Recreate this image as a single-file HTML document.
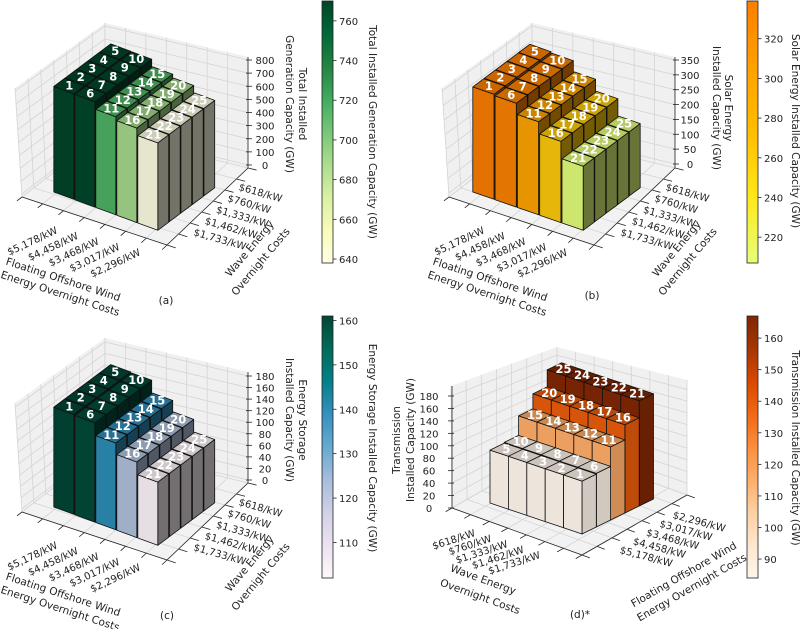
<!DOCTYPE html>
<html>
<head>
<meta charset="utf-8">
<style>
  html,body{margin:0;padding:0;background:#ffffff;}
  svg{display:block;font-family:"DejaVu Sans","Liberation Sans",sans-serif;}
  .tick{font-size:10px;fill:#222;}
  .title{font-size:10.5px;fill:#222;}
  .barlbl{font-size:11.5px;font-weight:bold;fill:#ffffff;}
</style>
</head>
<body>
<svg id="chart" width="800" height="629" viewBox="0 0 800 629" xmlns="http://www.w3.org/2000/svg"></svg>
<script>
// ---------------- data ----------------
const windLabels = ['$5,178/kW','$4,458/kW','$3,468/kW','$3,017/kW','$2,296/kW'];
const waveLabels = ['$618/kW','$760/kW','$1,333/kW','$1,462/kW','$1,733/kW'];
// values for bars 1..25
const genValues = [770,770,770,770,770, 769,769,769,769,769, 716,716,716,716,716, 690,690,690,690,690, 638,638,638,638,638];
const solarValues = [339,339,339,339,339, 335,335,335,335,335, 300,300,300,300,300, 262,262,262,262,262, 207,207,207,207,207];
const storageValues = [161,161,161,161,161, 160,160,160,160,160, 140,140,140,140,140, 122,122,122,122,122, 102,102,102,102,102];
const transValues = [84,84,84,84,84, 85,85,85,85,85, 116,116,116,116,116, 140,140,140,140,140, 167,167,167,167,167];
const genTicks = [0,100,200,300,400,500,600,700,800];
const solarTicks = [0,50,100,150,200,250,300,350];
const storageTicks = [0,20,40,60,80,100,120,140,160,180];
const transTicks = [0,20,40,60,80,100,120,140,160,180];
const genCbTicks = [640,660,680,700,720,740,760];
const solarCbTicks = [220,240,260,280,300,320];
const storageCbTicks = [110,120,130,140,150,160];
const transCbTicks = [90,100,110,120,130,140,150,160];

// ---------------- colormaps ----------------
const YlGn = ['#ffffe5','#f7fcb9','#d9f0a3','#addd8e','#78c679','#41ab5d','#238443','#006837','#004529'];
const Wistia = ['#e4ff7a','#ffe81a','#ffbd00','#ffa000','#fc7f00'];
const PuBuGn = ['#fff7fb','#ece2f0','#d0d1e6','#a6bddb','#67a9cf','#3690c0','#02818a','#016c59','#014636'];
const Oranges = ['#fff5eb','#fee6ce','#fdd0a2','#fdae6b','#fd8d3c','#f16913','#d94801','#a63603','#7f2704'];

const NS = 'http://www.w3.org/2000/svg';
const svg = document.getElementById('chart');
function mk(tag, attrs, parent){
  const e = document.createElementNS(NS, tag);
  for (const k in attrs) e.setAttribute(k, attrs[k]);
  (parent || svg).appendChild(e);
  return e;
}
function hex2rgb(h){return [parseInt(h.substr(1,2),16),parseInt(h.substr(3,2),16),parseInt(h.substr(5,2),16)];}
function cmapColor(cmap, t){
  t = Math.max(0, Math.min(1, t));
  const n = cmap.length - 1, p = t * n, k = Math.min(n - 1, Math.floor(p)), f = p - k;
  const a = hex2rgb(cmap[k]), b = hex2rgb(cmap[k + 1]);
  return [0,1,2].map(q => a[q] + (b[q] - a[q]) * f);
}
function shade(c, f){return 'rgb(' + c.map(v => Math.round(v * f)).join(',') + ')';}
function lerp(p, q, t){return [p[0] + (q[0] - p[0]) * t, p[1] + (q[1] - p[1]) * t];}
function pts(arr){return arr.map(p => p[0].toFixed(1) + ',' + p[1].toFixed(1)).join(' ');}

// ---------------- panels ----------------
const panels = [
  {key:'a', values:genValues, ticks:genTicks, cbTicks:genCbTicks, cmap:YlGn, dark:true,
   zTitle:['Total Installed','Generation Capacity (GW)'], cbTitle:'Total Installed Generation Capacity (GW)', caption:'(a)',
   type:'std', dx:0, dy:0, O:[53,192], ex:[21,7.75], ey:[11.5,-8.6], w:0.95, kz:0.137,
   axisX:248, z0y:165, zTop:60, zLabelX:265, zTitleX:[302,289], zTitleY:104,
   cb:[322,1,11,262], cbTitleX:372, cbTitleY:132, capXY:[166,301]},
  {key:'b', values:solarValues, ticks:solarTicks, cbTicks:solarCbTicks, cmap:Wistia, dark:true,
   zTitle:['Solar Energy','Installed Capacity (GW)'], cbTitle:'Solar Energy Installed Capacity (GW)', caption:'(b)',
   type:'std', dx:427, dy:0, O:[472,192], ex:[22.3,7.75], ey:[11.5,-8.6], w:0.95, kz:0.31,
   axisX:675, z0y:164, zTop:60, zLabelX:690, zTitleX:[728,716], zTitleY:108,
   cb:[747,1,11,262], cbTitleX:795, cbTitleY:131, capXY:[592,296]},
  {key:'c', values:storageValues, ticks:storageTicks, cbTicks:storageCbTicks, cmap:PuBuGn, dark:true,
   zTitle:['Energy Storage','Installed Capacity (GW)'], cbTitle:'Energy Storage Installed Capacity (GW)', caption:'(c)',
   type:'std', dx:0, dy:315, O:[53,507], ex:[21,7.75], ey:[11.5,-8.6], w:0.95, kz:0.62,
   axisX:248, z0y:480, zTop:376, zLabelX:265, zTitleX:[302,289], zTitleY:420,
   cb:[322,316,11,262], cbTitleX:372, cbTitleY:448, capXY:[167,616]},
  {key:'d', values:transValues, ticks:transTicks, cbTicks:transCbTicks, cmap:Oranges, dark:false,
   zTitle:['Transmission','Installed Capacity (GW)'], cbTitle:'Transmission Installed Capacity (GW)', caption:'(d)*',
   type:'rot', dx:0, dy:0, O:[490,503], ex:[18.4,6.2], ey:[14.3,-7.0], w:1.0, kz:0.63,
   axisX:452, z0y:508, zTop:396, zLabelX:429, zTitleX:[397,411], zTitleY:440,
   cb:[747,316,11,262], cbTitleX:795, cbTitleY:448, capXY:[580,615]}
];

panels.forEach(P => {
  const g = mk('g', {});
  
  
  const vmin = Math.min(...P.values), vmax = Math.max(...P.values);
  const zs = (P.z0y - P.zTop) / (P.ticks[P.ticks.length - 1]);
  const off = (p) => [p[0] + P.dx, p[1] + P.dy];

  let floor, walls, zEdgeBottom, zEdgeTop;
  if (P.type === 'std') {
    const F0 = off([22,197]), F1 = off([167,245]), F2 = off([248,168]), F3 = off([105,133]);
    const T0 = off([15,88]), T3 = off([105,23]), T2 = off([248,57]);
    floor = {A:F0, B:F1, C:F2, D:F3};
    walls = [[F0,F3,T3,T0],[F3,F2,T2,T3]];
    zEdgeBottom = F2; zEdgeTop = T2;
  } else {
    const L = [452,508], Fr = [582,555], R = [687,495], B = [557,448];
    const Lt = [451,386], Bt = [557,347], Rt = [687,380];
    floor = {A:L, B:Fr, C:R, D:B};
    walls = [[L,B,Bt,Lt],[B,R,Rt,Bt]];
    zEdgeBottom = L; zEdgeTop = Lt;
  }
  const zFrac = v => (zEdgeBottom[1] - (P.z0y - v * zs)) / (zEdgeBottom[1] - zEdgeTop[1]);

  const paneG = mk('g', {}, g);
  
  
  const fl = mk('polygon', {points: pts([floor.A, floor.B, floor.C, floor.D]), fill:'#f2f2f2', stroke:'none'}, paneG);
  
  
  walls.forEach((wq) => {
    const wp = mk('polygon', {points: pts(wq), fill:'#f0f0f0', stroke:'none'}, paneG);
    
    
    P.ticks.forEach(v => {
      const f = zFrac(v);
      const a = lerp(wq[0], wq[3], f), b = lerp(wq[1], wq[2], f);
      const ln = mk('line', {x1:a[0], y1:a[1], x2:b[0], y2:b[1], stroke:'#d4d4d4', 'stroke-width':0.8}, paneG);
      
      
    });
    for (let k = 0; k <= 7; k++) {
      const a = lerp(wq[0], wq[1], k / 7), b = lerp(wq[3], wq[2], k / 7);
      const ln = mk('line', {x1:a[0], y1:a[1], x2:b[0], y2:b[1], stroke:'#d4d4d4', 'stroke-width':0.8}, paneG);
      
      
    }
  });
  for (let k = 0; k <= 7; k++) {
    const a = lerp(floor.A, floor.B, k / 7), b = lerp(floor.D, floor.C, k / 7);
    const ln = mk('line', {x1:a[0], y1:a[1], x2:b[0], y2:b[1], stroke:'#d4d4d4', 'stroke-width':0.8}, paneG);
    
    
    const t = lerp(a, b, -0.06);
    const tk = mk('line', {x1:a[0], y1:a[1], x2:t[0], y2:t[1], stroke:'#222', 'stroke-width':0.8}, paneG);
    
    
    const c = lerp(floor.B, floor.C, k / 7), d = lerp(floor.A, floor.D, k / 7);
    const ln2 = mk('line', {x1:c[0], y1:c[1], x2:d[0], y2:d[1], stroke:'#d4d4d4', 'stroke-width':0.8}, paneG);
    
    
    const t2 = lerp(c, d, -0.06);
    const tk2 = mk('line', {x1:c[0], y1:c[1], x2:t2[0], y2:t2[1], stroke:'#222', 'stroke-width':0.8}, paneG);
    
    
  }
  [[floor.A, floor.B],[floor.B, floor.C]].forEach(e => {
    const ln = mk('line', {x1:e[0][0], y1:e[0][1], x2:e[1][0], y2:e[1][1], stroke:'#222', 'stroke-width':0.8}, paneG);
    
    
  });

  const zx = P.axisX;
  const zl = mk('line', {x1:zx, y1:zEdgeBottom[1], x2:zx, y2:zEdgeTop[1], stroke:'#222', 'stroke-width':0.8}, g);
  
  
  const tdir = P.type === 'std' ? 1 : -1;
  P.ticks.forEach(v => {
    const y = P.z0y - v * zs;
    const tk = mk('line', {x1:zx - 2 * tdir, y1:y, x2:zx + 4 * tdir, y2:y, stroke:'#222', 'stroke-width':0.8}, g);
    
    
    const tx = mk('text', {x:P.zLabelX, y:y + 1, 'text-anchor':'middle', 'dominant-baseline':'middle', class:'tick'}, g);
    
    
    tx.textContent = v;
  });
  P.zTitle.forEach((line, li) => {
    const x = P.zTitleX[li], y = P.zTitleY;
    const rot = P.type === 'std' ? 90 : -90;
    const tx = mk('text', {x:x, y:y, 'text-anchor':'middle', 'dominant-baseline':'middle', class:'title', transform:'rotate(' + rot + ' ' + x + ' ' + y + ')'}, g);
    
    
    tx.textContent = line;
  });

  const bars = [];
  P.values.forEach((v, idx) => {
    let i, j;
    if (P.type === 'std') { i = Math.floor(idx / 5); j = idx % 5; }
    else { j = Math.floor(idx / 5); i = 4 - (idx % 5); }
    bars.push({n: idx + 1, v: v, i: i, j: j});
  });
  bars.sort((a, b) => (b.j - a.j) || (a.i - b.i));
  const proj = (x, y, h) => [P.O[0] + x * P.ex[0] + y * P.ey[0], P.O[1] + x * P.ex[1] + y * P.ey[1] - h];
  const fF = P.dark ? 0.9 : 0.93, fT = 0.8, fR = P.dark ? 0.45 : 0.82;
  const barG = mk('g', {}, g);
  
  
  bars.forEach(b => {
    const h = b.v * P.kz;
    const x0 = b.i + (1 - P.w) / 2, x1 = x0 + P.w, y0 = b.j + (1 - P.w) / 2, y1 = y0 + P.w;
    const a0 = proj(x0,y0,0), b0 = proj(x1,y0,0), c0 = proj(x1,y1,0);
    const a1 = proj(x0,y0,h), b1 = proj(x1,y0,h), c1 = proj(x1,y1,h), d1 = proj(x0,y1,h);
    const col = cmapColor(P.cmap, (b.v - vmin) / (vmax - vmin));
    const bg = mk('g', {}, barG);
    
    
    const sr = {stroke:'#111', 'stroke-width':0.8, 'stroke-linejoin':'round'};
    const rf = mk('polygon', Object.assign({points: pts([b0,c0,c1,b1]), fill: shade(col, fR)}, sr), bg);
    
    
    const ff = mk('polygon', Object.assign({points: pts([a0,b0,b1,a1]), fill: shade(col, fF)}, sr), bg);
    
    
    const tf = mk('polygon', Object.assign({points: pts([a1,b1,c1,d1]), fill: shade(col, fT)}, sr), bg);
    
    
    const cx = (a1[0] + c1[0]) / 2, cy = (a1[1] + c1[1]) / 2;
    const lb = mk('text', {x:cx, y:cy, 'text-anchor':'middle', 'dominant-baseline':'middle', class:'barlbl'}, bg);
    
    
    lb.textContent = b.n;
  });

  const dx = P.dx, dy = P.dy;
  if (P.type === 'std') {
    windLabels.forEach((s, k) => {
      const x = 57 + 20.75 * k + dx, y = 230 + 5.5 * k + dy;
      const t = mk('text', {x:x, y:y, 'text-anchor':'end', 'dominant-baseline':'middle', class:'tick', transform:'rotate(-25 ' + x + ' ' + y + ')'}, g);
      
      
      t.textContent = s;
    });
    waveLabels.forEach((s, k) => {
      const x = 239 - 11.3 * k + dx, y = 187 + 11.3 * k + dy;
      const t = mk('text', {x:x, y:y, 'text-anchor':'start', 'dominant-baseline':'middle', class:'tick', transform:'rotate(16 ' + x + ' ' + y + ')'}, g);
      
      
      t.textContent = s;
    });
    [['Floating Offshore Wind',63,280],['Energy Overnight Costs',60,294]].forEach(r => {
      const x = r[1] + dx, y = r[2] + dy;
      const t = mk('text', {x:x, y:y, 'text-anchor':'middle', 'dominant-baseline':'middle', class:'title', transform:'rotate(18 ' + x + ' ' + y + ')'}, g);
      
      
      t.textContent = r[0];
    });
    [['Wave Energy',250,249],['Overnight Costs',261,262]].forEach(r => {
      const x = r[1] + dx, y = r[2] + dy;
      const t = mk('text', {x:x, y:y, 'text-anchor':'middle', 'dominant-baseline':'middle', class:'title', transform:'rotate(-50 ' + x + ' ' + y + ')'}, g);
      
      
      t.textContent = r[0];
    });
  } else {
    waveLabels.forEach((s, k) => {
      const x = 475 + 16.25 * k, y = 533 + 5.5 * k;
      const t = mk('text', {x:x, y:y, 'text-anchor':'end', 'dominant-baseline':'middle', class:'tick', transform:'rotate(-18 ' + x + ' ' + y + ')'}, g);
      
      
      t.textContent = s;
    });
    windLabels.forEach((s, k) => {
      const x = 620 + 13.25 * k, y = 550 - 8.75 * k;
      const t = mk('text', {x:x, y:y, 'text-anchor':'start', 'dominant-baseline':'middle', class:'tick', transform:'rotate(15 ' + x + ' ' + y + ')'}, g);
      
      
      t.textContent = s;
    });
    [['Wave Energy',483,580],['Overnight Costs',480,597]].forEach(r => {
      const t = mk('text', {x:r[1], y:r[2], 'text-anchor':'middle', 'dominant-baseline':'middle', class:'title', transform:'rotate(20 ' + r[1] + ' ' + r[2] + ')'}, g);
      
      
      t.textContent = r[0];
    });
    [['Floating Offshore Wind',684,575],['Energy Overnight Costs',692,588]].forEach(r => {
      const t = mk('text', {x:r[1], y:r[2], 'text-anchor':'middle', 'dominant-baseline':'middle', class:'title', transform:'rotate(-30 ' + r[1] + ' ' + r[2] + ')'}, g);
      
      
      t.textContent = r[0];
    });
  }

  const [cx, cy, cw, ch] = P.cb;
  const gid = 'grad-' + P.key;
  const defs = mk('defs', {}, g);
  const lg = mk('linearGradient', {id:gid, x1:0, y1:1, x2:0, y2:0}, defs);
  P.cmap.forEach((c, k) => { mk('stop', {offset: k / (P.cmap.length - 1), 'stop-color': c}, lg); });
  const cbr = mk('rect', {x:cx, y:cy, width:cw, height:ch, fill:'url(#' + gid + ')', stroke:'#222', 'stroke-width':0.8}, g);
  
  
  P.cbTicks.forEach(v => {
    const y = cy + (vmax - v) / (vmax - vmin) * ch;
    const tk = mk('line', {x1:cx + cw, y1:y, x2:cx + cw + 3.5, y2:y, stroke:'#222', 'stroke-width':0.8}, g);
    
    
    const tx = mk('text', {x:cx + cw + 6, y:y + 1, 'dominant-baseline':'middle', class:'tick'}, g);
    
    
    tx.textContent = v;
  });
  const ct = mk('text', {x:P.cbTitleX, y:P.cbTitleY, 'text-anchor':'middle', 'dominant-baseline':'middle', class:'title', transform:'rotate(90 ' + P.cbTitleX + ' ' + P.cbTitleY + ')'}, g);
  
  
  ct.textContent = P.cbTitle;

  const cap = mk('text', {x:P.capXY[0], y:P.capXY[1], 'text-anchor':'middle', 'dominant-baseline':'middle', class:'title'}, g);
  
  
  cap.textContent = P.caption;
});
</script>
</body>
</html>
